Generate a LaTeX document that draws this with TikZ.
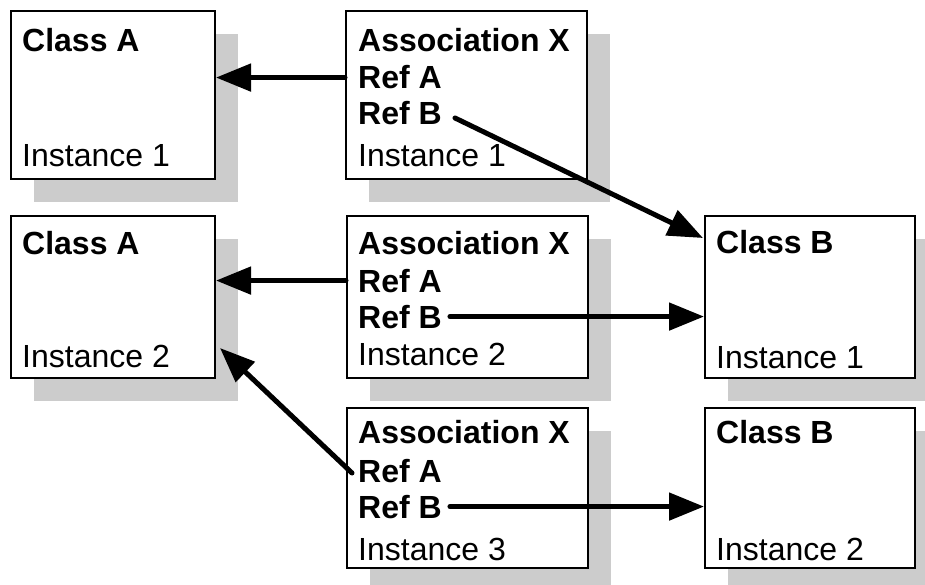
\documentclass[tikz,border=0pt]{standalone}
\usepackage{fontspec}
\setmainfont{Liberation Sans}
\usetikzlibrary{arrows.meta}
\begin{document}
\begin{tikzpicture}[x=1pt,y=-1pt,
  box/.style={draw=black,line width=2pt,fill=white,rectangle,inner sep=0pt,anchor=north west},
  shadowbox/.style={fill=black!20,draw=none,rectangle,inner sep=0pt,anchor=north west},
  txt/.style={inner sep=0pt,anchor=base west,font=\fontsize{32}{37}\selectfont},
  btxt/.style={txt,font=\fontsize{32}{37}\selectfont\bfseries},
  arr/.style={line width=5pt,line cap=round,-{Triangle[length=35pt,width=27pt]}}]
\useasboundingbox (0,0) rectangle (925,585);
\clip (0,0) rectangle (925,585);
\fill[white] (0,0) rectangle (925,585);
% shadows
\node[shadowbox,minimum width=204pt,minimum height=168pt] (sca1) at (34,34) {};
\node[shadowbox,minimum width=241pt,minimum height=168pt] (sax1) at (369,34) {};
\node[shadowbox,minimum width=204pt,minimum height=162pt] (sca2) at (34,239) {};
\node[shadowbox,minimum width=241pt,minimum height=162pt] (sax2) at (370,239) {};
\node[shadowbox,minimum width=210pt,minimum height=162pt] (scb1) at (728,239) {};
\node[shadowbox,minimum width=241pt,minimum height=160pt] (sax3) at (370,431) {};
\node[shadowbox,minimum width=210pt,minimum height=160pt] (scb2) at (728,431) {};
% boxes
\node[box,minimum width=204pt,minimum height=168pt] (ca1) at (10,10) {};
\node[box,minimum width=241pt,minimum height=168pt] (ax1) at (345,10) {};
\node[box,minimum width=204pt,minimum height=162pt] (ca2) at (10,215) {};
\node[box,minimum width=241pt,minimum height=162pt] (ax2) at (346,215) {};
\node[box,minimum width=210pt,minimum height=162pt] (cb1) at (704,215) {};
\node[box,minimum width=241pt,minimum height=160pt] (ax3) at (346,407) {};
\node[box,minimum width=210pt,minimum height=160pt] (cb2) at (704,407) {};
% texts
\node[btxt] (ca1t) at (22,52) {Class A};
\node[txt] (ca1i) at (22,167) {Instance 1};
\node[btxt] (ax1t) at (358,52) {Association X};
\node[btxt] (ax1a) at (358,89) {Ref A};
\node[btxt] (ax1b) at (358,125) {Ref B};
\node[txt] (ax1i) at (358,167) {Instance 1};
\node[btxt] (ca2t) at (22,254) {Class A};
\node[txt] (ca2i) at (22,367) {Instance 2};
\node[btxt] (ax2t) at (358,254) {Association X};
\node[btxt] (ax2a) at (358,292) {Ref A};
\node[btxt] (ax2b) at (358,328) {Ref B};
\node[txt] (ax2i) at (358,365) {Instance 2};
\node[btxt] (cb1t) at (716,253) {Class B};
\node[txt] (cb1i) at (716,368) {Instance 1};
\node[btxt] (ax3t) at (358,443) {Association X};
\node[btxt] (ax3a) at (358,482) {Ref A};
\node[btxt] (ax3b) at (358,518) {Ref B};
\node[txt] (ax3i) at (358,560) {Instance 3};
\node[btxt] (cb2t) at (716,443) {Class B};
\node[txt] (cb2i) at (716,560) {Instance 2};
% connector end points
\coordinate (s2) at (455,118);
\coordinate (e2) at (703,238);
\coordinate (s5) at (352,473);
\coordinate (e5) at (220,348);
% connectors
\draw[arr] (ax1.west |- ax1a.west) -- (ca1.east |- ax1a.west);
\draw[arr] (s2) -- (e2);
\draw[arr] (ax2.west |- ax2a.west) -- (ca2.east |- ax2a.west);
\draw[arr] ([xshift=8pt]ax2b.east) -- (cb1.west |- ax2b.east);
\draw[arr] (s5) -- (e5);
\draw[arr] ([xshift=8pt]ax3b.east) -- (cb2.west |- ax3b.east);
\end{tikzpicture}
\end{document}
